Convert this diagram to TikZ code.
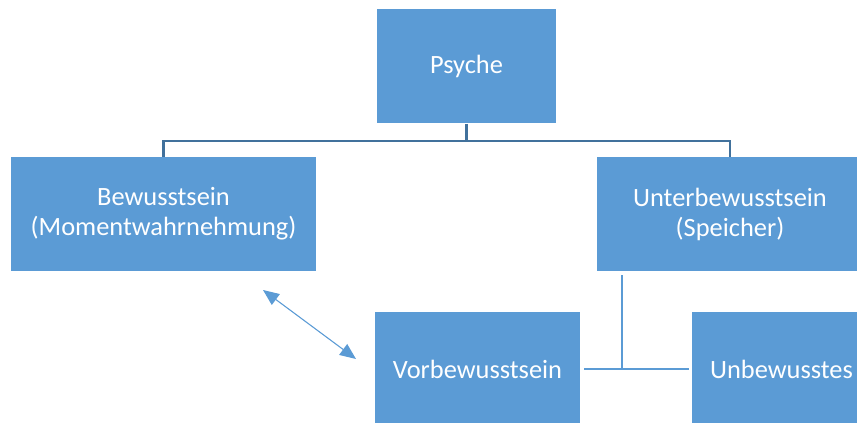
\documentclass[tikz,border=0pt]{standalone}
\usepackage{fontspec}
\setmainfont{Carlito}
\usetikzlibrary{arrows.meta,positioning}
\definecolor{boxblue}{HTML}{5B9BD5}
\definecolor{treeblue}{HTML}{41719C}
\tikzset{
  box/.style      = {rectangle, fill=boxblue, text=white, align=center, inner sep=0pt,
                     minimum height=114*0.75pt, font=\fontsize{19.8}{22.5}\selectfont},
  tree/.style     = {draw=treeblue, line width=2pt},
  link/.style     = {draw=boxblue, line width=1.3pt},
  dblarrow/.style = {{Triangle[length=12pt,width=10pt]}-{Triangle[length=12pt,width=10pt]},
                     draw=boxblue, fill=boxblue, line width=0.8pt},
}
\begin{document}
\begin{tikzpicture}[x=0.75pt,y=-0.75pt]
  \useasboundingbox (0,0) rectangle (857,423);
  \node[box, minimum width=179*0.75pt] (psyche) at (466.5,66.5) {Psyche};
  \node[box, minimum width=305*0.75pt] (bew)    at (163.5,214) {Bewusstsein\\(Momentwahrnehmung)};
  \node[box, minimum width=266*0.75pt] (unter)  at (730,214) {Unterbewusstsein\\(Speicher)};
  \node[box, minimum width=205*0.75pt] (vor)    at (477.5,369) {Vorbewusstsein};
  \node[box, minimum width=179*0.75pt] (unbew)  at (781.5,369) {Unbewusstes};
  % Psyche tree
  \coordinate (fork) at (466.5,141);
  \draw[tree] (psyche.south) -- (fork);
  \draw[tree] (fork) -| (bew.north);
  \draw[tree] (fork) -| (unter.north);
  % Unterbewusstsein split
  \coordinate (joint) at (622,369);
  \draw[link, shorten <=3pt] (unter.south -| joint) -- (joint);
  \draw[link, shorten <=3pt, shorten >=2pt] (vor.east) -- (unbew.west);
  % Bewusstsein <-> Vorbewusstsein
  \coordinate (a1) at (263,290);
  \coordinate (a2) at (356,359);
  \draw[dblarrow] (a1) -- (a2);
\end{tikzpicture}
\end{document}
